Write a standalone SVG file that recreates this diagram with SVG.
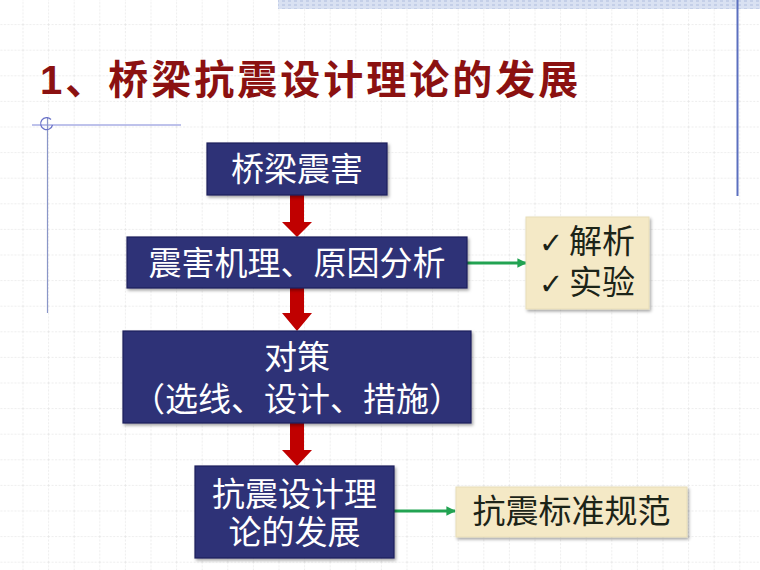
<svg xmlns="http://www.w3.org/2000/svg" width="760" height="570" viewBox="0 0 760 570">
<defs>
<pattern id="grid" x="22.5" y="-1.5" width="25.6" height="25.6" patternUnits="userSpaceOnUse">
<line x1="0" y1="0" x2="0" y2="25.6" stroke="#dcdcdc" stroke-width="1" stroke-dasharray="2,1.5"/>
<line x1="0" y1="0" x2="25.6" y2="0" stroke="#dcdcdc" stroke-width="1" stroke-dasharray="2,1.5"/>
</pattern>
<pattern id="band" width="6" height="4" patternUnits="userSpaceOnUse">
<rect width="6" height="4" fill="#d9e1f2"/>
<rect x="0" y="0" width="3" height="2" fill="#c4cfe8"/>
</pattern>
<marker id="garrow" viewBox="0 0 10 10" refX="9" refY="5" markerWidth="3.2" markerHeight="3.2" orient="auto" markerUnits="strokeWidth">
<path d="M0,0 L10,5 L0,10 z" fill="#22a352"/>
</marker>
<filter id="sh" x="-10%" y="-10%" width="130%" height="130%">
<feDropShadow dx="1.5" dy="2" stdDeviation="1.5" flood-color="#000" flood-opacity="0.35"/>
</filter>
</defs>
<style>
.navy{fill:#2e3177;stroke:#1c1f5c;stroke-width:1.2;filter:url(#sh)}
.beige{fill:#f4e9c6;stroke:#e8ddb8;stroke-width:1;filter:url(#sh)}
.wt{font-family:"Noto Sans CJK SC","Noto Sans",sans-serif;font-size:33px;fill:#ffffff;text-anchor:middle}
.bt{font-family:"Noto Sans CJK SC","Noto Sans",sans-serif;font-size:33px;fill:#1c2418}
.ck{font-family:"DejaVu Sans",sans-serif;font-size:29px;font-weight:bold}
.red{fill:#c00000}
.green{stroke:#22a352;stroke-width:3;fill:none;marker-end:url(#garrow)}
</style>
<rect width="760" height="570" fill="#ffffff"/>
<rect width="760" height="570" fill="url(#grid)"/>
<rect x="278" y="0" width="482" height="9" fill="url(#band)"/>
<line x1="737.5" y1="0" x2="737.5" y2="196" stroke="#5b6fbf" stroke-width="2"/>
<line x1="32" y1="125" x2="181" y2="125" stroke="#7f86d8" stroke-width="1.2"/>
<line x1="47.5" y1="117" x2="47.5" y2="313" stroke="#8a96c8" stroke-width="1.2"/>
<path d="M51,119.5 A6,6 0 1 0 52.5,125" fill="none" stroke="#6a72c8" stroke-width="1.2"/>
<text x="40" y="94" font-family="Liberation Sans,'Noto Sans CJK SC',sans-serif" font-size="40" font-weight="bold" letter-spacing="3" fill="#8b1111">1、桥梁抗震设计理论的发展</text>

<g id="connectors">
<polygon class="red" points="290,195 304,195 304,222 312,222 297,237 282,222 290,222"/>
<polygon class="red" points="290,288 304,288 304,313 312,313 297,331 282,313 290,313"/>
<polygon class="red" points="290,423 304,423 304,450 312,450 297,466 282,450 290,450"/>
<line class="green" x1="467" y1="263" x2="526" y2="263"/>
<line class="green" x1="394" y1="511" x2="455" y2="511"/>
</g>

<g id="n1">
<rect class="navy" x="207" y="143" width="180" height="52"/>
<text class="wt" x="297" y="181">桥梁震害</text>
</g>
<g id="n2">
<rect class="navy" x="127" y="237" width="340" height="51"/>
<text class="wt" x="297" y="275">震害机理、原因分析</text>
</g>
<g id="n3">
<rect class="navy" x="123" y="331" width="348" height="92"/>
<text class="wt"><tspan x="297" y="369">对策</tspan><tspan x="297" y="411">（选线、设计、措施）</tspan></text>
</g>
<g id="n4">
<rect class="navy" x="195" y="466" width="199" height="92"/>
<text class="wt"><tspan x="294.5" y="506">抗震设计理</tspan><tspan x="294.5" y="544">论的发展</tspan></text>
</g>
<g id="n5">
<rect class="beige" x="526" y="217" width="123" height="92"/>
<text class="bt"><tspan class="ck" x="539" y="253">✓</tspan><tspan x="569" y="253">解析</tspan><tspan class="ck" x="539" y="294">✓</tspan><tspan x="569" y="294">实验</tspan></text>
</g>
<g id="n6">
<rect class="beige" x="456" y="487" width="231" height="50"/>
<text class="bt" x="571.5" y="523" text-anchor="middle">抗震标准规范</text>
</g>
</svg>
